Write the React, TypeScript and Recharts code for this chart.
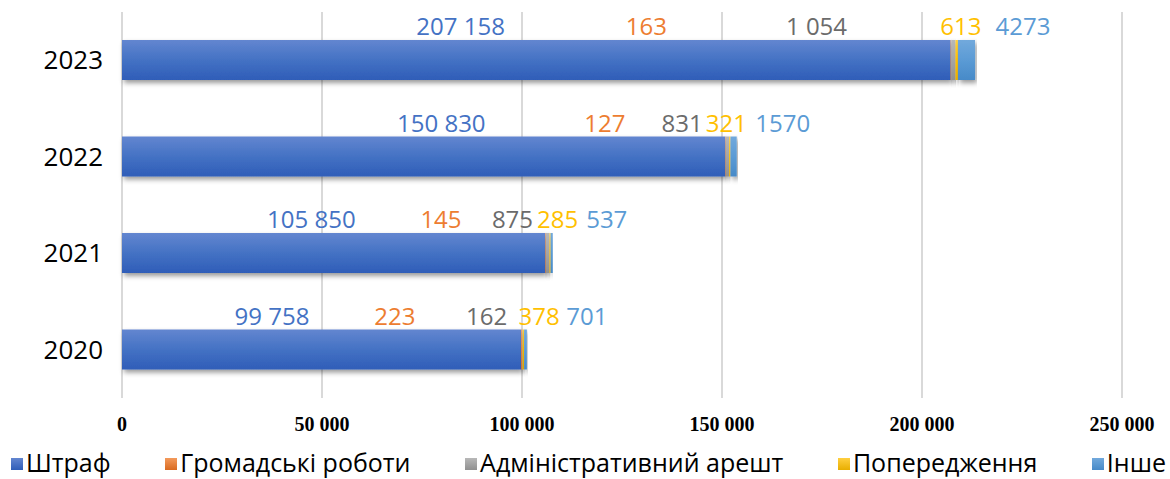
import { BarChart, Bar, XAxis, YAxis, CartesianGrid, LabelList } from 'recharts';

// categories, top to bottom
const YEARS = ['2023', '2022', '2021', '2020'];

// series values per year (same order as YEARS)
const FINE = [207158, 150830, 105850, 99758];
const COMMUNITY_WORK = [163, 127, 145, 223];
const ADMIN_ARREST = [1054, 831, 875, 162];
const WARNING = [613, 321, 285, 378];
const OTHER = [4273, 1570, 537, 701];

const X_TICKS = [0, 50000, 100000, 150000, 200000, 250000];

interface Series {
  key: string;
  name: string;
  values: number[];
  top: string;
  base: string;
  bottom: string;
  labelColor: string;
  grouped: boolean;
}

const SERIES: Series[] = [
  { key: 'fine', name: 'Штраф', values: FINE, top: '#6386d0', base: '#4472C4', bottom: '#2f5db8', labelColor: '#4472C4', grouped: true },
  { key: 'community', name: 'Громадські роботи', values: COMMUNITY_WORK, top: '#f39a5c', base: '#ED7D31', bottom: '#d96a20', labelColor: '#ED7D31', grouped: false },
  { key: 'arrest', name: 'Адміністративний арешт', values: ADMIN_ARREST, top: '#b8b8b8', base: '#A5A5A5', bottom: '#909090', labelColor: '#6b6b6b', grouped: true },
  { key: 'warning', name: 'Попередження', values: WARNING, top: '#ffcf40', base: '#FFC000', bottom: '#e8ae00', labelColor: '#FFC000', grouped: false },
  { key: 'other', name: 'Інше', values: OTHER, top: '#72a9dc', base: '#5B9BD5', bottom: '#478ac8', labelColor: '#5B9BD5', grouped: false },
];

// label centre offsets (px) from the end of each segment, the source had them dragged by hand
const LABEL_DX: Record<string, number[]> = {
  fine: [-490, -284, -234, -249],
  community: [-305, -121, -105, -127],
  arrest: [-139, -47, -37, -36],
  warning: [3, -4, 7, 15],
  other: [48, 46, 54, 60],
};

const rows = YEARS.map((year, i) => {
  const row: Record<string, string | number> = { year };
  SERIES.forEach((s) => {
    row[s.key] = s.values[i];
  });
  return row;
});

const SANS = '"Open Sans", "Noto Sans", sans-serif';

function groupDigits(v: number): string {
  return String(v).replace(/\B(?=(\d{3})+(?!\d))/g, ' ');
}

function makeLabel(s: Series) {
  return (p: any) => {
    const idx = p.index ?? 0;
    const x = Number(p.x) + Number(p.width) + (LABEL_DX[s.key][idx] ?? 0);
    const y = Number(p.y) - 5;
    const v = Number(p.value);
    return (
      <text
        key={`${s.key}-${idx}`}
        x={x}
        y={y}
        textAnchor="middle"
        fontFamily={SANS}
        fontSize={24}
        fill={s.labelColor}
      >
        {s.grouped ? groupDigits(v) : String(v)}
      </text>
    );
  };
}

function BarShape(props: any) {
  const { x, y, width, height, fill } = props;
  if (!width || width <= 0) return null;
  return (
    <rect x={x} y={y} width={width} height={height} fill={fill} filter="url(#barShadow)" />
  );
}

function LegendRow() {
  return (
    <div
      style={{
        position: 'absolute',
        left: 11,
        right: 4,
        top: 447,
        display: 'flex',
        justifyContent: 'space-between',
        fontFamily: SANS,
        fontSize: 25,
        color: '#000',
        lineHeight: '30px',
      }}
    >
      {SERIES.map((s) => (
        <div key={s.key} style={{ display: 'flex', alignItems: 'center' }}>
          <span
            style={{
              display: 'inline-block',
              width: 12,
              height: 12,
              marginRight: 3,
              marginTop: 4,
              background: `linear-gradient(${s.top}, ${s.bottom})`,
            }}
          />
          <span>{s.name}</span>
        </div>
      ))}
    </div>
  );
}

export default function App() {
  return (
    <div style={{ position: 'relative', width: 1170, height: 479, background: '#fff', overflow: 'hidden' }}>
      <style>{'body{margin:0}'}</style>
      <BarChart
        width={1170}
        height={479}
        data={rows}
        layout="vertical"
        margin={{ top: 12, right: 48, bottom: 41, left: 0 }}
        barSize={40}
      >
        <defs>
          {SERIES.map((s) => (
            <linearGradient key={s.key} id={`grad-${s.key}`} x1="0" y1="0" x2="0" y2="1">
              <stop offset="0%" stopColor={s.top} />
              <stop offset="50%" stopColor={s.base} />
              <stop offset="100%" stopColor={s.bottom} />
            </linearGradient>
          ))}
          <filter id="barShadow" x="-5%" y="-20%" width="115%" height="160%">
            <feDropShadow dx="2" dy="3" stdDeviation="2.5" floodColor="#000" floodOpacity="0.4" />
          </filter>
        </defs>
        <CartesianGrid horizontal={false} vertical stroke="#d9d9d9" strokeWidth={2} />
        <XAxis
          type="number"
          domain={[0, 250000]}
          ticks={X_TICKS}
          interval={0}
          tickFormatter={(v: number) => groupDigits(v)}
          axisLine={false}
          tickLine={false}
          tickMargin={13}
          height={40}
          tick={{ fontFamily: '"Liberation Serif", "Times New Roman", serif', fontWeight: 700, fontSize: 20, fill: '#000' }}
        />
        <YAxis
          type="category"
          dataKey="year"
          width={122}
          axisLine={false}
          tickLine={false}
          tickMargin={13}
          tick={{ fontFamily: SANS, fontSize: 26, fill: '#000' }}
        />
        {SERIES.map((s) => (
          <Bar
            key={s.key}
            dataKey={s.key}
            name={s.name}
            stackId="total"
            fill={`url(#grad-${s.key})`}
            shape={BarShape}
            isAnimationActive={false}
          >
            <LabelList dataKey={s.key} content={makeLabel(s)} />
          </Bar>
        ))}
      </BarChart>
      <LegendRow />
    </div>
  );
}
